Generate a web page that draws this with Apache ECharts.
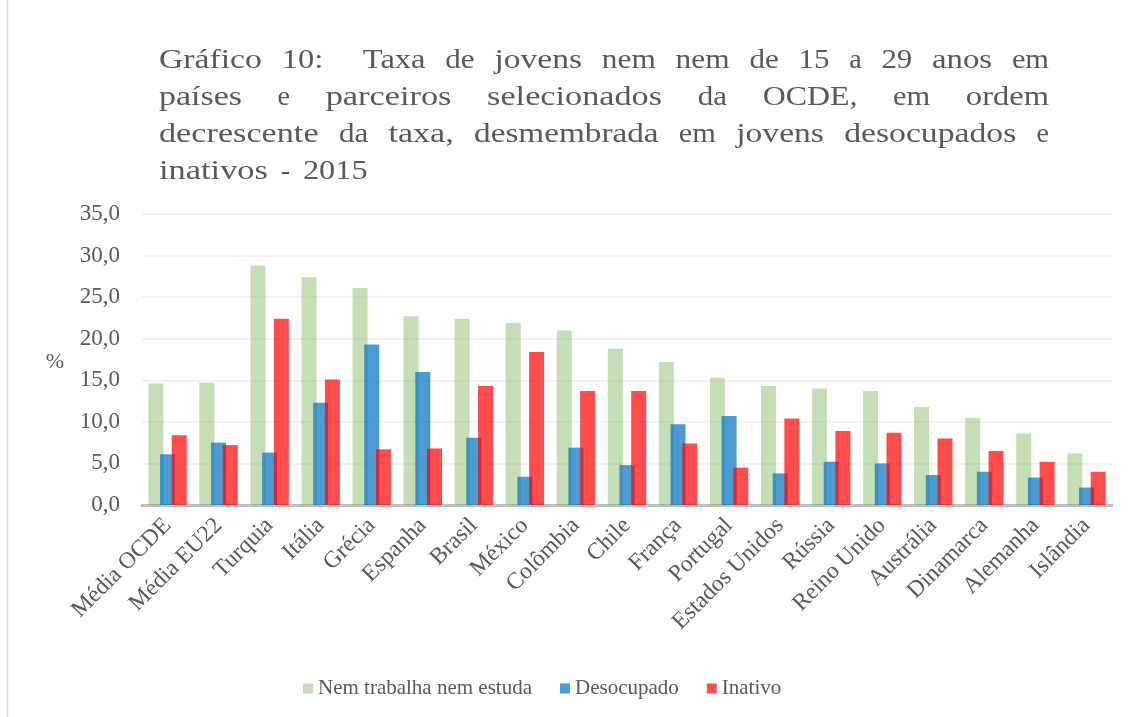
<!DOCTYPE html>
<html>
<head>
<meta charset="utf-8">
<script src="https://cdn.jsdelivr.net/npm/echarts@6/dist/echarts.min.js"></script>
<style>
html,body{margin:0;padding:0;background:#fff;}
#chart{width:1128px;height:717px;}
</style>
</head>
<body>
<div id="chart"></div>
<script>
const categories = ['Média OCDE','Média EU22','Turquia','Itália','Grécia','Espanha','Brasil','México','Colômbia','Chile','França','Portugal','Estados Unidos','Rússia','Reino Unido','Austrália','Dinamarca','Alemanha','Islândia'];
const nemNem     = [14.6,14.7,28.8,27.4,26.1,22.7,22.4,21.9,21.0,18.8,17.2,15.3,14.3,14.0,13.7,11.8,10.5,8.6,6.2];
const desocupado = [6.1,7.5,6.3,12.3,19.3,16.0,8.1,3.4,6.9,4.8,9.7,10.7,3.8,5.2,5.0,3.6,4.0,3.3,2.1];
const inativo    = [8.4,7.2,22.4,15.1,6.7,6.8,14.3,18.4,13.7,13.7,7.4,4.5,10.4,8.9,8.7,8.0,6.5,5.2,4.0];
const seriesNames = ['Nem trabalha nem estuda','Desocupado','Inativo'];
const yTicks = [0,5,10,15,20,25,30,35];
const titleLines = [
  'Gráfico 10:  Taxa de jovens nem nem de 15 a 29 anos em',
  'países e parceiros selecionados da OCDE, em ordem',
  'decrescente da taxa, desmembrada em jovens desocupados e',
  'inativos - 2015'
];
const titleJustify = [true,true,true,false];

const SERIF = "'Liberation Serif', 'Times New Roman', serif";
const TXT = '#595959';

// Title: justified lines built from words (wide letter spacing emulated by horizontal scale)
const mctx = document.createElement('canvas').getContext('2d');
const TFS = 28, LS = 2.9;
mctx.font = TFS + "px 'Liberation Serif'";
const tLeft = 159, tRight = 1049, tTop = 61, tStep = 37;
const titleGraphics = [];
titleLines.forEach((line, li) => {
  const parts = line.split(' ');
  const words = [], gapW = [];
  parts.forEach(p => {
    if (p === '') { if (gapW.length) gapW[gapW.length-1] += 1.0; }
    else { words.push(p); gapW.push(1); }
  });
  gapW[gapW.length-1] = 0;
  const nat = words.map(w => mctx.measureText(w).width);
  const widths = words.map((w, i) => nat[i] + LS * (w.length - 1));
  const total = widths.reduce((a,b)=>a+b,0);
  const totalW = gapW.reduce((a,b)=>a+b,0);
  const unit = titleJustify[li] && totalW > 0 ? (tRight - tLeft - total)/totalW : mctx.measureText(' ').width + 2*LS;
  let x = tLeft;
  words.forEach((w, wi) => {
    titleGraphics.push({
      type:'text', x:x, y: tTop + li*tStep, scaleX: widths[wi]/nat[wi],
      style:{text:w, fontSize:TFS, fontFamily:SERIF, fill:TXT, verticalAlign:'middle', align:'left'}
    });
    x += widths[wi] + unit * gapW[wi];
  });
});

const chart = echarts.init(document.getElementById('chart'), null, {renderer:'canvas'});
const option = {
  backgroundColor:'#ffffff',
  animation:false,
  grid:{left:142, right:16, top:214, bottom:212, containLabel:false},
  legend:{
    data:seriesNames, left:298, top:673, itemWidth:10, itemHeight:10, itemGap:28,
    icon:'rect',
    textStyle:{fontFamily:SERIF, fontSize:21, color:TXT}
  },
  xAxis:{
    type:'category', data:categories,
    axisLine:{lineStyle:{color:'#bfbfbf', width:3}},
    axisTick:{show:false},
    axisLabel:{rotate:45, fontFamily:SERIF, fontSize:23.5, color:TXT, margin:17, interval:0}
  },
  yAxis:{
    type:'value', min:0, max:35, interval:5,
    axisLine:{show:false}, axisTick:{show:false},
    splitLine:{lineStyle:{color:'#efefef', width:1.5}},
    axisLabel:{fontFamily:SERIF, fontSize:23, color:TXT, margin:22,
      formatter: v => v.toFixed(1).replace('.', ',')}
  },
  series:[
    {name:seriesNames[0], type:'bar', data:nemNem, barWidth:15, barGap:'-22%',
     itemStyle:{color:'rgba(112,173,71,0.4)'}},
    {name:seriesNames[1], type:'bar', data:desocupado, barWidth:15, barGap:'-22%',
     itemStyle:{color:'rgba(0,112,192,0.7)'}},
    {name:seriesNames[2], type:'bar', data:inativo, barWidth:15, barGap:'-22%',
     itemStyle:{color:'rgba(255,0,0,0.7)'}}
  ],
  graphic: titleGraphics.concat([
    {type:'text', x:55, y:362, style:{text:'%', fontSize:22, fontFamily:SERIF, fill:TXT, align:'center', verticalAlign:'middle'}},
    {type:'line', shape:{x1:7.5, y1:0, x2:7.5, y2:717}, style:{stroke:'#d9d9d9', lineWidth:1.5}}
  ])
};
chart.setOption(option);
</script>
</body>
</html>
